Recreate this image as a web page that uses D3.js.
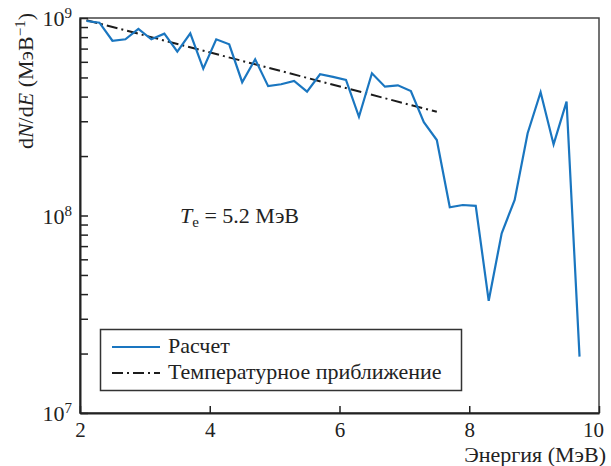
<!DOCTYPE html>
<html>
<head>
<meta charset="utf-8">
<script src="https://cdn.jsdelivr.net/npm/d3@7"></script>
<style>
    body { margin: 0; background: #fff; }
    svg text { font-family: "Liberation Serif", "Times New Roman", Times, Tinos, "DejaVu Serif", "Noto Serif", serif; fill: #222; }
</style>
</head>
<body>
<div id="chart"></div>
<script>
// Energy grid (MeV) and computed spectrum dN/dE
const energies = [2.1, 2.3, 2.5, 2.7, 2.9, 3.1, 3.3, 3.5, 3.7, 3.9,
                  4.1, 4.3, 4.5, 4.7, 4.9, 5.1, 5.3, 5.5, 5.7, 5.9,
                  6.1, 6.3, 6.5, 6.7, 6.9, 7.1, 7.3, 7.5, 7.7, 7.9,
                  8.1, 8.3, 8.5, 8.7, 8.9, 9.1, 9.3, 9.5, 9.7];
const spectrum = [9.66e8, 9.47e8, 7.67e8, 7.80e8, 8.80e8, 7.80e8, 8.33e8, 6.75e8, 8.37e8, 5.54e8,
                  7.80e8, 7.36e8, 4.73e8, 6.18e8, 4.52e8, 4.62e8, 4.80e8, 4.24e8, 5.19e8, 5.03e8,
                  4.86e8, 3.16e8, 5.25e8, 4.49e8, 4.56e8, 4.27e8, 2.97e8, 2.41e8, 1.10e8, 1.13e8,
                  1.12e8, 3.70e7, 8.13e7, 1.20e8, 2.61e8, 4.21e8, 2.29e8, 3.77e8, 1.93e7];

// Temperature fit (T_e = 5.2 MeV), end points
const fitEnergies = [2.1, 7.5];
const fitValues = [9.75e8, 3.35e8];

const xTicks = [2, 4, 6, 8, 10];
const yExponents = [7, 8, 9];
const legendLabels = ['Расчет', 'Температурное приближение'];

const FONT = '"Liberation Serif", "Times New Roman", Times, Tinos, "DejaVu Serif", "Noto Serif", serif';

const config = {
    margin: { top: 18, left: 80, right: 12, bottom: 53 },
    colors: { calc: '#1a76c0', fit: '#1c1c1c', axis: '#222' }
};

const drawChart = () => {
    const W = 611, H = 466;
    const width = W - config.margin.left - config.margin.right;
    const height = H - config.margin.top - config.margin.bottom;

    const svg = d3.select('#chart').append('svg')
        .attr('width', W)
        .attr('height', H)
        .attr('font-family', FONT);

    const g = svg.append('g')
        .attr('transform', `translate(${config.margin.left},${config.margin.top})`);

    const x = d3.scaleLinear().domain([2, 10]).range([0, width]);
    const y = d3.scaleLog().domain([1e7, 1e9]).range([height, 0]);

    // frame
    g.append('rect')
        .attr('width', width)
        .attr('height', height)
        .attr('fill', 'none')
        .attr('stroke', '#444')
        .attr('stroke-width', 1.5);

    // left axis: minor + major ticks pointing inwards
    const yTickVals = [];
    for (let e = 7; e < 9; e++) {
        for (let m = 1; m <= 9; m++) yTickVals.push(m * Math.pow(10, e));
    }
    yTickVals.push(1e9);

    const yAxis = g.append('g')
        .call(d3.axisLeft(y)
            .tickValues(yTickVals)
            .tickSizeInner(-8)
            .tickSizeOuter(0)
            .tickFormat(''));
    yAxis.select('.domain').attr('stroke', config.colors.axis).attr('stroke-width', 2);
    yAxis.selectAll('.tick line').attr('stroke', config.colors.axis).attr('stroke-width', 1.5);

    // y tick labels 10^n
    const yLabels = g.selectAll('.ylab')
        .data(yExponents)
        .enter().append('text')
        .attr('class', 'ylab')
        .attr('x', -8)
        .attr('y', d => y(Math.pow(10, d)) + 8)
        .attr('text-anchor', 'end')
        .style('font-size', '22px');
    yLabels.append('tspan').text('10');
    yLabels.append('tspan')
        .attr('dy', -8)
        .style('font-size', '15px')
        .text(d => d);

    // bottom axis
    const xAxis = g.append('g')
        .attr('transform', `translate(0,${height})`)
        .call(d3.axisBottom(x)
            .tickValues(xTicks)
            .tickSizeInner(-7)
            .tickSizeOuter(0)
            .tickPadding(9)
            .tickFormat(d3.format('d')));
    xAxis.attr('font-family', FONT);
    xAxis.select('.domain').attr('stroke', config.colors.axis).attr('stroke-width', 2);
    xAxis.selectAll('.tick line').attr('stroke', config.colors.axis).attr('stroke-width', 1.5);
    xAxis.selectAll('.tick text')
        .style('font-size', '21px')
        .attr('fill', '#222')
        .attr('dx', d => d === 10 ? -6 : 0);

    // fit line (dash-dot)
    const line = d3.line()
        .x(d => x(d[0]))
        .y(d => y(d[1]));

    g.append('path')
        .datum(fitEnergies.map((e, i) => [e, fitValues[i]]))
        .attr('d', line)
        .attr('fill', 'none')
        .attr('stroke', config.colors.fit)
        .attr('stroke-width', 2)
        .attr('stroke-dasharray', '11,4,2,4');

    // computed spectrum
    g.append('path')
        .datum(energies.map((e, i) => [e, spectrum[i]]))
        .attr('d', line)
        .attr('fill', 'none')
        .attr('stroke', config.colors.calc)
        .attr('stroke-width', 2.2)
        .attr('stroke-linejoin', 'miter');

    // annotation T_e = 5.2 MeV
    const ann = svg.append('text')
        .attr('x', 180)
        .attr('y', 223)
        .style('font-size', '22px');
    ann.append('tspan').style('font-style', 'italic').text('T');
    ann.append('tspan').attr('dy', 4).style('font-size', '15px').text('e');
    ann.append('tspan').attr('dy', -4).text(' = 5.2 МэВ');

    // legend
    const lg = svg.append('g');
    lg.append('rect')
        .attr('x', 100.5)
        .attr('y', 329.5)
        .attr('width', 361)
        .attr('height', 61)
        .attr('fill', '#fff')
        .attr('stroke', '#333')
        .attr('stroke-width', 1.5);

    const legendRows = lg.selectAll('.lrow')
        .data(legendLabels)
        .enter().append('g')
        .attr('class', 'lrow')
        .attr('transform', (d, i) => `translate(112,${347 + i * 26})`);

    legendRows.append('line')
        .attr('x1', 0)
        .attr('x2', 48)
        .attr('stroke', (d, i) => i === 0 ? config.colors.calc : config.colors.fit)
        .attr('stroke-width', 2)
        .attr('stroke-dasharray', (d, i) => i === 0 ? null : '11,4,2,4');

    legendRows.append('text')
        .attr('x', 56)
        .attr('y', 6)
        .style('font-size', '22px')
        .text(d => d);

    // axis titles
    svg.append('text')
        .attr('x', 606)
        .attr('y', 462)
        .attr('text-anchor', 'end')
        .style('font-size', '22px')
        .text('Энергия (МэВ)');

    const yt = svg.append('text')
        .attr('transform', 'translate(33,13) rotate(-90)')
        .attr('text-anchor', 'end')
        .style('font-size', '22px');
    yt.append('tspan').text('d');
    yt.append('tspan').style('font-style', 'italic').text('N');
    yt.append('tspan').text('/d');
    yt.append('tspan').style('font-style', 'italic').text('E');
    yt.append('tspan').text(' (МэВ');
    yt.append('tspan').attr('dy', -8).style('font-size', '15px').text('−1');
    yt.append('tspan').attr('dy', 8).text(')');
};

document.addEventListener('DOMContentLoaded', drawChart);
</script>
</body>
</html>
